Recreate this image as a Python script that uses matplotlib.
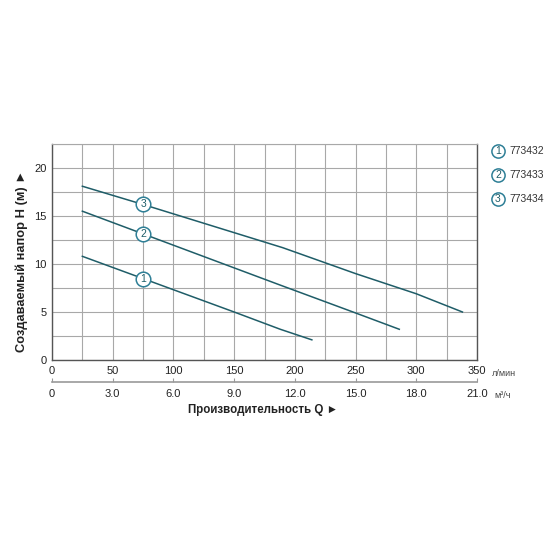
import numpy as np
import matplotlib
matplotlib.use("Agg")
import matplotlib.pyplot as plt
from matplotlib.lines import Line2D

plt.rcParams['font.family'] = ['Liberation Sans', 'DejaVu Sans']

# Data
q1 = [25, 150, 188, 214]
h1 = [10.8, 5.0, 3.2, 2.1]
q2 = [25, 188, 250, 286]
h2 = [15.5, 7.8, 4.9, 3.2]
q3 = [25, 75, 190, 250, 300, 338]
h3 = [18.1, 16.2, 11.7, 9.0, 6.9, 5.0]
curve_ids = ["1", "2", "3"]
models = ["773432", "773433", "773434"]
label_q = [75, 75, 75]
x_ticks = [0, 50, 100, 150, 200, 250, 300, 350]
y_ticks = [0, 5, 10, 15, 20]
m3_ticks = [0, 3, 6, 9, 12, 15, 18, 21]
m3_labels = ["0", "3.0", "6.0", "9.0", "12.0", "15.0", "18.0", "21.0"]

line_c = "#1f5d68"
circ_c = "#2e7f96"
grid_c = "#a8a8a8"
text_c = "#222222"

fig = plt.figure(figsize=(5.6, 5.6), dpi=100)
ax = fig.add_axes([52/560, 1-360/560, (477-52)/560, (360-144)/560])
ax.set_xlim(0, 350)
ax.set_ylim(0, 22.5)
ax.set_xticks(x_ticks)
ax.set_xticks(np.arange(0, 351, 25), minor=True)
ax.set_yticks(y_ticks)
ax.set_yticks(np.arange(0, 22.6, 2.5), minor=True)
ax.grid(True, which='both', color=grid_c, linewidth=0.8)
ax.set_axisbelow(True)
ax.tick_params(which='both', length=0)
ax.tick_params(axis='x', pad=4, labelsize=8, colors=text_c)
ax.tick_params(axis='y', pad=4, labelsize=8, colors=text_c)
ax.set_xticklabels([str(v) for v in x_ticks])
ax.set_yticklabels([str(v) for v in y_ticks])
for s in ['left', 'bottom', 'right']:
    ax.spines[s].set_color('#555555')
    ax.spines[s].set_linewidth(1.0)
ax.spines['top'].set_color(grid_c)
ax.spines['top'].set_linewidth(0.8)

curves = [(q1, h1), (q2, h2), (q3, h3)]
for (q, h), cid, lq in zip(curves, curve_ids, label_q):
    ax.plot(q, h, color=line_c, linewidth=1.1, zorder=3)
    ly = np.interp(lq, q, h)
    ax.plot([lq], [ly], marker='o', markersize=10.5, markerfacecolor='white',
            markeredgecolor=circ_c, markeredgewidth=1.1, zorder=4)
    ax.text(lq, ly, cid, ha='center', va='center', fontsize=7.5,
            color=line_c, zorder=5)

# secondary axis (m3/h)
sec = ax.secondary_xaxis(-0.102, functions=(lambda x: x * 0.06, lambda m: m / 0.06))
sec.set_xticks(m3_ticks)
sec.set_xticklabels(m3_labels)
sec.tick_params(direction='in', length=3, width=0.8, color='#999999',
                labelsize=8, labelcolor=text_c, pad=5)
sec.spines['bottom'].set_color('#999999')
sec.spines['bottom'].set_linewidth(1.2)

fig.text(22/560, 1-261/560, "Создаваемый напор H (м) ►", rotation=90,
         ha='center', va='center', fontsize=9.3, fontweight='bold', color=text_c)
fig.text(262.5/560, 1-410/560, "Производительность Q ►", ha='center', va='center',
         fontsize=8.3, fontweight='bold', color=text_c)

fig.text(492/560, 1-373/560, "л/мин", ha='left', va='center', fontsize=6.5, color='#444444')
fig.text(494/560, 1-395/560, "м³/ч", ha='left', va='center', fontsize=6.5, color='#444444')

# legend
for i, (cid, m) in enumerate(zip(curve_ids, models)):
    yy = 1 - (151 + 24*i)/560
    fig.lines.append(Line2D([498/560], [yy], transform=fig.transFigure,
                     marker='o', markersize=9.5, markerfacecolor='white',
                     markeredgecolor=circ_c, markeredgewidth=1.1))
    fig.text(498/560, yy, cid, ha='center', va='center', fontsize=7.5, color=line_c)
    fig.text(509/560, yy, m, ha='left', va='center', fontsize=7.5, color='#333333')

fig.savefig("out.png", dpi=100, facecolor='white')
